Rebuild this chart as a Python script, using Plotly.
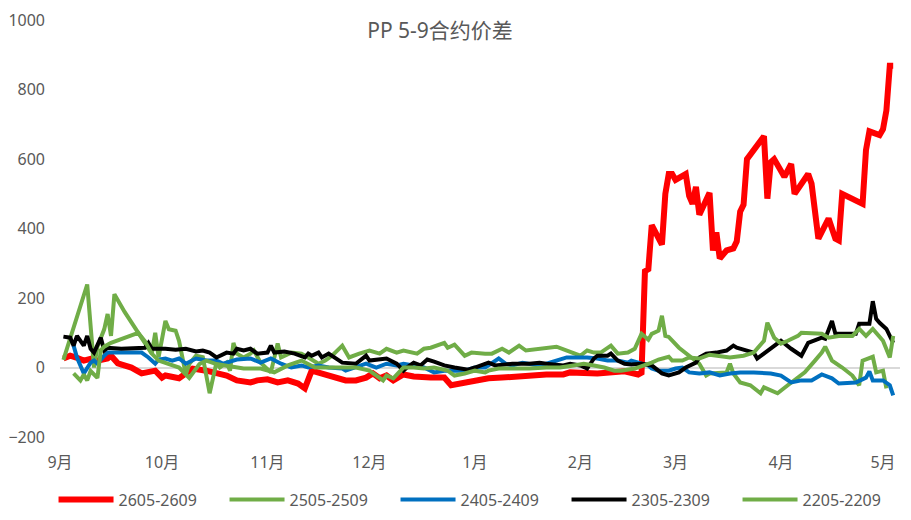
import pandas as pd
import plotly.graph_objects as go

# x values are day offsets from 1 Sep (season start); y values are spreads
red_day = [1,3,5,7,9,11,14,15,17,21,24,28,30,31,35,39,43,46,49,52,56,58,61,64,67,70,72,74,77,81,84,87,90,92,94,96,98,101,104,109,113,115,118,121,126,130,134,138,143,148,150,158,166,170,171,172,173,174,177,178,179,180,181,184,185,186,187,188,191,192,193,194,196,198,199,200,201,202,207,208,209,210,213,215,216,220,221,223,226,228,229,230,236,237,238,241,242,243,244,245]
red_val = [26,34,28,20,25,20,26,34,12,0,-17,-9,-29,-23,-31,-3,-9,-17,-23,-37,-43,-37,-34,-43,-37,-46,-60,-9,-17,-31,-37,-37,-29,-17,-31,-23,-37,-20,-26,-29,-29,-51,-46,-43,-31,-29,-26,-20,-20,-20,-14,-17,-11,-20,-15,277,283,410,354,500,557,557,540,557,494,471,520,440,503,337,389,314,337,343,363,449,469,600,666,486,591,600,549,586,500,557,529,371,429,371,366,500,471,626,680,669,686,740,869,869]

black_day = [1,3,4,5,7,8,9,10,12,13,14,18,25,26,27,31,34,37,40,42,44,46,49,51,52,54,56,58,61,62,63,66,69,72,73,74,76,77,79,81,83,87,90,91,94,96,99,101,102,104,106,108,110,113,116,120,122,125,126,128,133,138,141,143,148,150,153,155,157,158,161,162,164,166,168,171,174,177,179,182,184,187,188,190,193,196,198,199,202,204,205,207,209,212,215,218,220,222,224,225,227,228,234,235,238,239,240,241,243,245]
black_val = [89,86,63,91,63,91,54,43,86,49,57,54,57,71,54,54,51,54,46,49,43,29,43,40,54,49,54,40,43,63,43,46,40,29,40,34,43,29,40,26,14,11,34,20,23,26,11,-9,0,14,6,23,17,6,0,-6,0,11,14,6,11,11,14,11,6,11,6,-3,26,34,34,40,20,11,9,11,6,-17,-23,-14,0,14,29,40,43,49,63,57,49,43,26,40,54,77,54,34,71,77,86,83,134,97,97,126,126,191,140,129,111,71]

blue_day = [4,5,7,9,10,11,13,14,16,24,26,28,29,31,33,35,37,40,43,46,48,49,52,56,59,62,65,68,71,73,76,79,83,84,87,90,93,96,99,101,104,107,110,113,116,119,122,125,126,129,131,133,136,138,141,143,146,149,152,155,158,161,164,167,168,170,173,174,176,179,181,183,185,188,191,194,197,200,204,209,212,215,218,221,224,227,229,234,237,238,239,242,244,245]
blue_val = [63,29,-17,14,20,11,34,43,43,43,29,11,23,26,20,26,11,26,20,20,11,14,23,26,14,26,11,0,6,0,6,0,-3,-9,0,11,0,11,6,11,6,0,-14,-9,-9,-9,0,0,6,26,11,6,14,11,6,11,20,29,29,29,26,20,20,14,20,14,6,-3,-9,-9,-3,0,-14,-17,-14,-23,-17,-14,-14,-17,-23,-43,-37,-37,-20,-31,-46,-43,-29,-11,-37,-37,-51,-80]

g2505_day = [1,8,10,11,13,14,15,16,19,23,26,27,28,29,31,32,34,35,37,38,40,42,44,46,47,49,50,51,52,54,56,57,59,62,64,65,68,71,73,76,78,80,83,85,88,91,94,96,99,101,105,107,109,113,114,116,119,121,125,127,130,132,135,137,146,151,153,155,157,159,162,164,167,169,171,173,174,176,177,178,179,182,185,188,190,191,196,197,198,200,203,206,207,209,211,214,217,219,222,224,225,227,230,233,235,236,239,240,242,243]
g2505_val = [22,239,0,60,110,154,91,211,160,100,54,40,100,30,134,110,106,77,-20,10,34,30,-74,14,0,14,-9,71,40,29,40,49,14,-14,69,29,43,40,29,11,20,34,63,29,40,49,40,54,43,49,40,54,57,71,57,66,34,43,40,40,54,43,63,49,60,40,34,49,43,43,63,40,43,54,97,80,97,106,149,91,88,57,34,11,-23,-17,-14,11,-17,-43,-51,-74,-57,-66,-74,-51,-29,-14,20,43,60,20,0,-23,-51,20,31,-14,-9,-60]

g2205_day = [4,6,7,8,9,11,12,13,15,19,23,25,27,29,32,35,38,41,43,46,49,54,59,61,63,67,71,75,79,83,87,91,95,96,98,101,104,107,110,114,116,119,122,125,126,129,133,138,143,147,151,154,157,160,163,165,169,172,174,176,179,180,183,185,188,191,194,197,201,204,207,208,210,212,214,217,218,222,224,226,229,233,235,237,239,242,244,245]
g2205_val = [-17,-37,-20,-37,-10,-30,50,60,71,85,100,75,40,20,10,0,-30,10,20,10,5,-3,-3,-9,-14,6,20,0,0,0,0,-9,-37,-23,-31,0,0,-3,0,-9,-23,-17,-9,-14,-9,-3,-3,-3,0,0,6,11,6,0,-9,-9,-3,6,14,23,31,20,20,29,26,37,34,29,34,43,77,129,86,69,77,91,100,97,97,86,91,91,111,91,111,77,29,91]

series = [
    ("2605-2609", red_day, red_val, "#FF0000", 6),
    ("2505-2509", g2505_day, g2505_val, "#70AD47", 4),
    ("2405-2409", blue_day, blue_val, "#0070C0", 4),
    ("2305-2309", black_day, black_val, "#000000", 4),
    ("2205-2209", g2205_day, g2205_val, "#70AD47", 4),
]

month_ticks = ["2025-09-01", "2025-10-01", "2025-11-01", "2025-12-01", "2026-01-01",
               "2026-02-01", "2026-03-01", "2026-04-01", "2026-05-01"]
month_labels = ["9月", "10月", "11月", "12月", "1月", "2月", "3月", "4月", "5月"]
y_ticks = [-200, 0, 200, 400, 600, 800, 1000]

base = pd.Timestamp("2025-09-01")
FONT = "Noto Sans, Noto Sans CJK SC, sans-serif"

fig = go.Figure()
for name, days, vals, color, width in series:
    x = base + pd.to_timedelta(days, unit="D")
    fig.add_trace(go.Scatter(x=x, y=vals, mode="lines", name=name,
                             line=dict(color=color, width=width)))

# page body has an 8px default margin, so the figure is 8px smaller and margins shifted
fig.update_layout(
    width=903, height=512,
    margin=dict(l=52, r=11, t=12, b=83, autoexpand=False),
    plot_bgcolor="white", paper_bgcolor="white",
    title=dict(text="PP 5-9合约价差", x=432/903, xanchor="center", xref="container",
               y=1-23/512, yanchor="middle",
               font=dict(family=FONT, size=21, color="#595959")),
    font=dict(family=FONT, color="#595959", size=16),
    legend=dict(orientation="h", x=-0.0077, xanchor="left", y=-0.15, yanchor="middle",
                font=dict(family=FONT, size=16, color="#595959"),
                itemwidth=55, entrywidth=101, entrywidthmode="pixels",
                tracegroupgap=0, traceorder="normal"),
    showlegend=True,
)
fig.update_xaxes(
    range=[base, base + pd.Timedelta(days=247)],
    tickvals=month_ticks, ticktext=month_labels,
    showgrid=False, showline=False, zeroline=False, ticks="",
    ticklabelstandoff=14, automargin=False,
    tickfont=dict(family=FONT, size=16, color="#595959"),
)
fig.update_yaxes(
    range=[-200, 1000.5], tickvals=y_ticks,
    showgrid=False, showline=False,
    zeroline=True, zerolinecolor="#D9D9D9", zerolinewidth=2,
    ticks="", ticklabelstandoff=14, automargin=False, ticklabeloverflow="allow",
    tickfont=dict(family=FONT, size=16, color="#595959"),
)
fig.write_html("out.html")
